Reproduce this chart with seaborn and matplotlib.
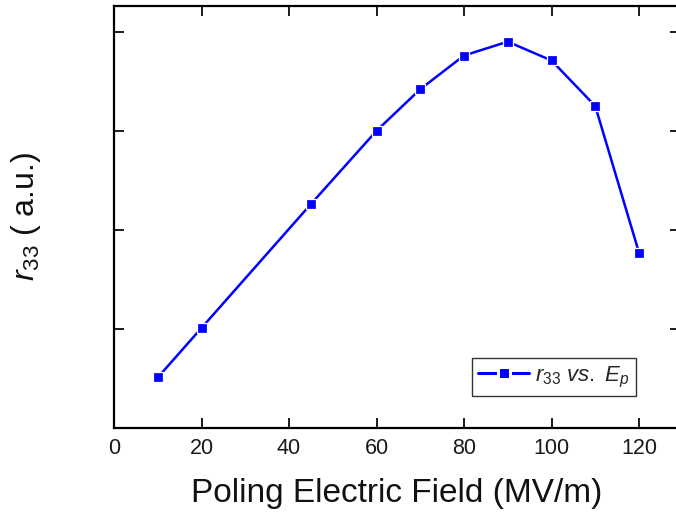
import matplotlib
matplotlib.use("Agg")
import matplotlib.pyplot as plt
import seaborn as sns
import pandas as pd

# Poling field (MV/m) and electro-optic coefficient r33 (arbitrary units)
poling_field = [10, 20, 45, 60, 70, 80, 90, 100, 110, 120]
r33_values = [5.1, 10.1, 22.6, 30.0, 34.2, 37.6, 39.0, 37.1, 32.5, 17.7]
x_ticks = [0, 20, 40, 60, 80, 100, 120]
y_ticks = [0, 10, 20, 30, 40]

sns.set_theme(style="ticks")
plt.rcParams["font.family"] = ["Liberation Sans", "DejaVu Sans"]
plt.rcParams["mathtext.fontset"] = "custom"
plt.rcParams["mathtext.rm"] = "Liberation Sans"
plt.rcParams["mathtext.it"] = "Liberation Sans:italic"

df = pd.DataFrame({"field": poling_field, "r33": r33_values})

fig = plt.figure(figsize=(6.76, 5.12), dpi=100)
ax = fig.add_axes([114 / 676, 1 - 428 / 512, (680 - 114) / 676, (428 - 6) / 512])

sns.lineplot(data=df, x="field", y="r33", ax=ax, color="#0000ff",
             linewidth=1.8, marker="s", markersize=7,
             markeredgecolor="white", markeredgewidth=0.9,
             label=r"$r_{33}$ $vs.$ $E_p$")

ax.set_xlim(0, (680 - 114) / 4.375)
ax.set_ylim(0, 42.6)
ax.set_xticks(x_ticks)
ax.set_yticks(y_ticks)
ax.set_yticklabels([])
ax.tick_params(axis="both", which="major", direction="in", length=7, width=1.4,
               top=True, right=True, labelsize=15.5, colors="#1a1a1a", pad=7)
for side in ax.spines.values():
    side.set_linewidth(1.6)
    side.set_color("black")

ax.set_xlabel("Poling Electric Field (MV/m)", fontsize=24, color="#111111", labelpad=14)
ax.set_ylabel(r"$r_{33}$ ( a.u.)", fontsize=23, color="#111111", labelpad=44)

leg = ax.legend(loc="lower right", bbox_to_anchor=(0.923, 0.075), fontsize=16,
                frameon=True, fancybox=False, edgecolor="black",
                handlelength=2.3, handletextpad=0.25, borderpad=0.3,
                borderaxespad=0)
leg.get_frame().set_linewidth(1.0)
for h in leg.legend_handles:
    h.set_markeredgewidth(2.2)
    h.set_markersize(8)
    h.set_linewidth(2.2)
for t in leg.get_texts():
    t.set_fontstyle("italic")

fig.savefig("out.png", dpi=100)
